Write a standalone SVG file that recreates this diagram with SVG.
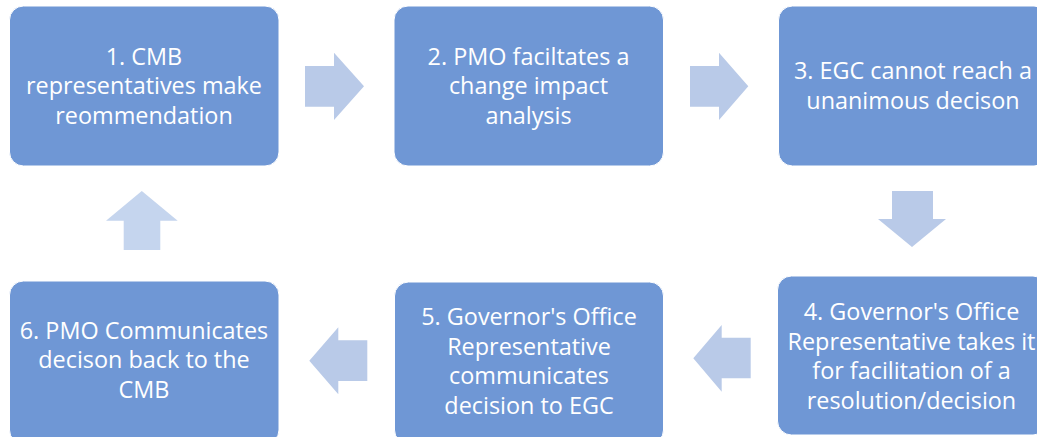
<svg xmlns="http://www.w3.org/2000/svg" width="1037" height="437" viewBox="0 0 1037 437">
  <style>
    .box { fill: #6F97D5; stroke: #FFFFFF; stroke-width: 1; }
    .arrow { fill: #B9CAE8; }
    .arrow-light { fill: #C5D5EE; }
    .label { font-family: "Open Sans", "Liberation Sans", sans-serif; font-size: 23.4px; fill: #FFFFFF; text-anchor: middle; }
  </style>
  <rect width="1037" height="437" fill="#FFFFFF"/>

  <!-- process steps -->
  <g id="step1">
    <rect class="box" x="9.5" y="6" width="269.5" height="160" rx="14"/>
    <text class="label" x="144" y="64.5">1. CMB</text>
    <text class="label" x="144" y="94">representatives make</text>
    <text class="label" x="144" y="123.5">reommendation</text>
  </g>
  <g id="step2">
    <rect class="box" x="394" y="6" width="269.5" height="160" rx="14"/>
    <text class="label" x="528.5" y="64.5">2. PMO faciltates a</text>
    <text class="label" x="528.5" y="94">change impact</text>
    <text class="label" x="528.5" y="123.5">analysis</text>
  </g>
  <g id="step3">
    <rect class="box" x="778.5" y="6" width="269.5" height="160" rx="14"/>
    <text class="label" x="913" y="79">3. EGC cannot reach a</text>
    <text class="label" x="913" y="108.5">unanimous decison</text>
  </g>
  <g id="step4">
    <rect class="box" x="777.5" y="276" width="269.5" height="159" rx="14"/>
    <text class="label" x="911.5" y="320">4. Governor's Office</text>
    <text class="label" x="911.5" y="349.5">Representative takes it</text>
    <text class="label" x="911.5" y="379">for facilitation of a</text>
    <text class="label" x="911.5" y="408.5">resolution/decision</text>
  </g>
  <g id="step5">
    <rect class="box" x="394.5" y="282" width="269" height="162" rx="14"/>
    <text class="label" x="529" y="325">5. Governor's Office</text>
    <text class="label" x="529" y="354.5">Representative</text>
    <text class="label" x="529" y="384">communicates</text>
    <text class="label" x="529" y="413.5">decision to EGC</text>
  </g>
  <g id="step6">
    <rect class="box" x="9.5" y="281" width="269.5" height="163" rx="14"/>
    <text class="label" x="144" y="338.5">6. PMO Communicates</text>
    <text class="label" x="144" y="368">decison back to the</text>
    <text class="label" x="144" y="397.5">CMB</text>
  </g>

  <!-- block arrows between steps -->
  <g id="connectors">
    <polygon class="arrow" points="305,66 334,66 334,52.7 364,86.3 334,120 334,106.7 305,106.7"/>
    <polygon class="arrow" points="690,66 719,66 719,52.7 748.3,86.3 719,120 719,106.7 690,106.7"/>
    <polygon class="arrow" points="892,191 933,191 933,219 946,219 912,247 878,219 892,219"/>
    <polygon class="arrow" points="750.7,337.7 721.7,337.7 721.7,325 693.3,358.3 721.7,391.7 721.7,378.3 750.7,378.3"/>
    <polygon class="arrow" points="367.3,340.3 338.3,340.3 338.3,327.3 309.3,360.7 338.3,394.3 338.3,381 367.3,381"/>
    <polygon class="arrow-light" points="123.7,250 123.7,220.7 106,220.7 141.8,191 177.7,220.7 160.3,220.7 160.3,250"/>
  </g>
</svg>
